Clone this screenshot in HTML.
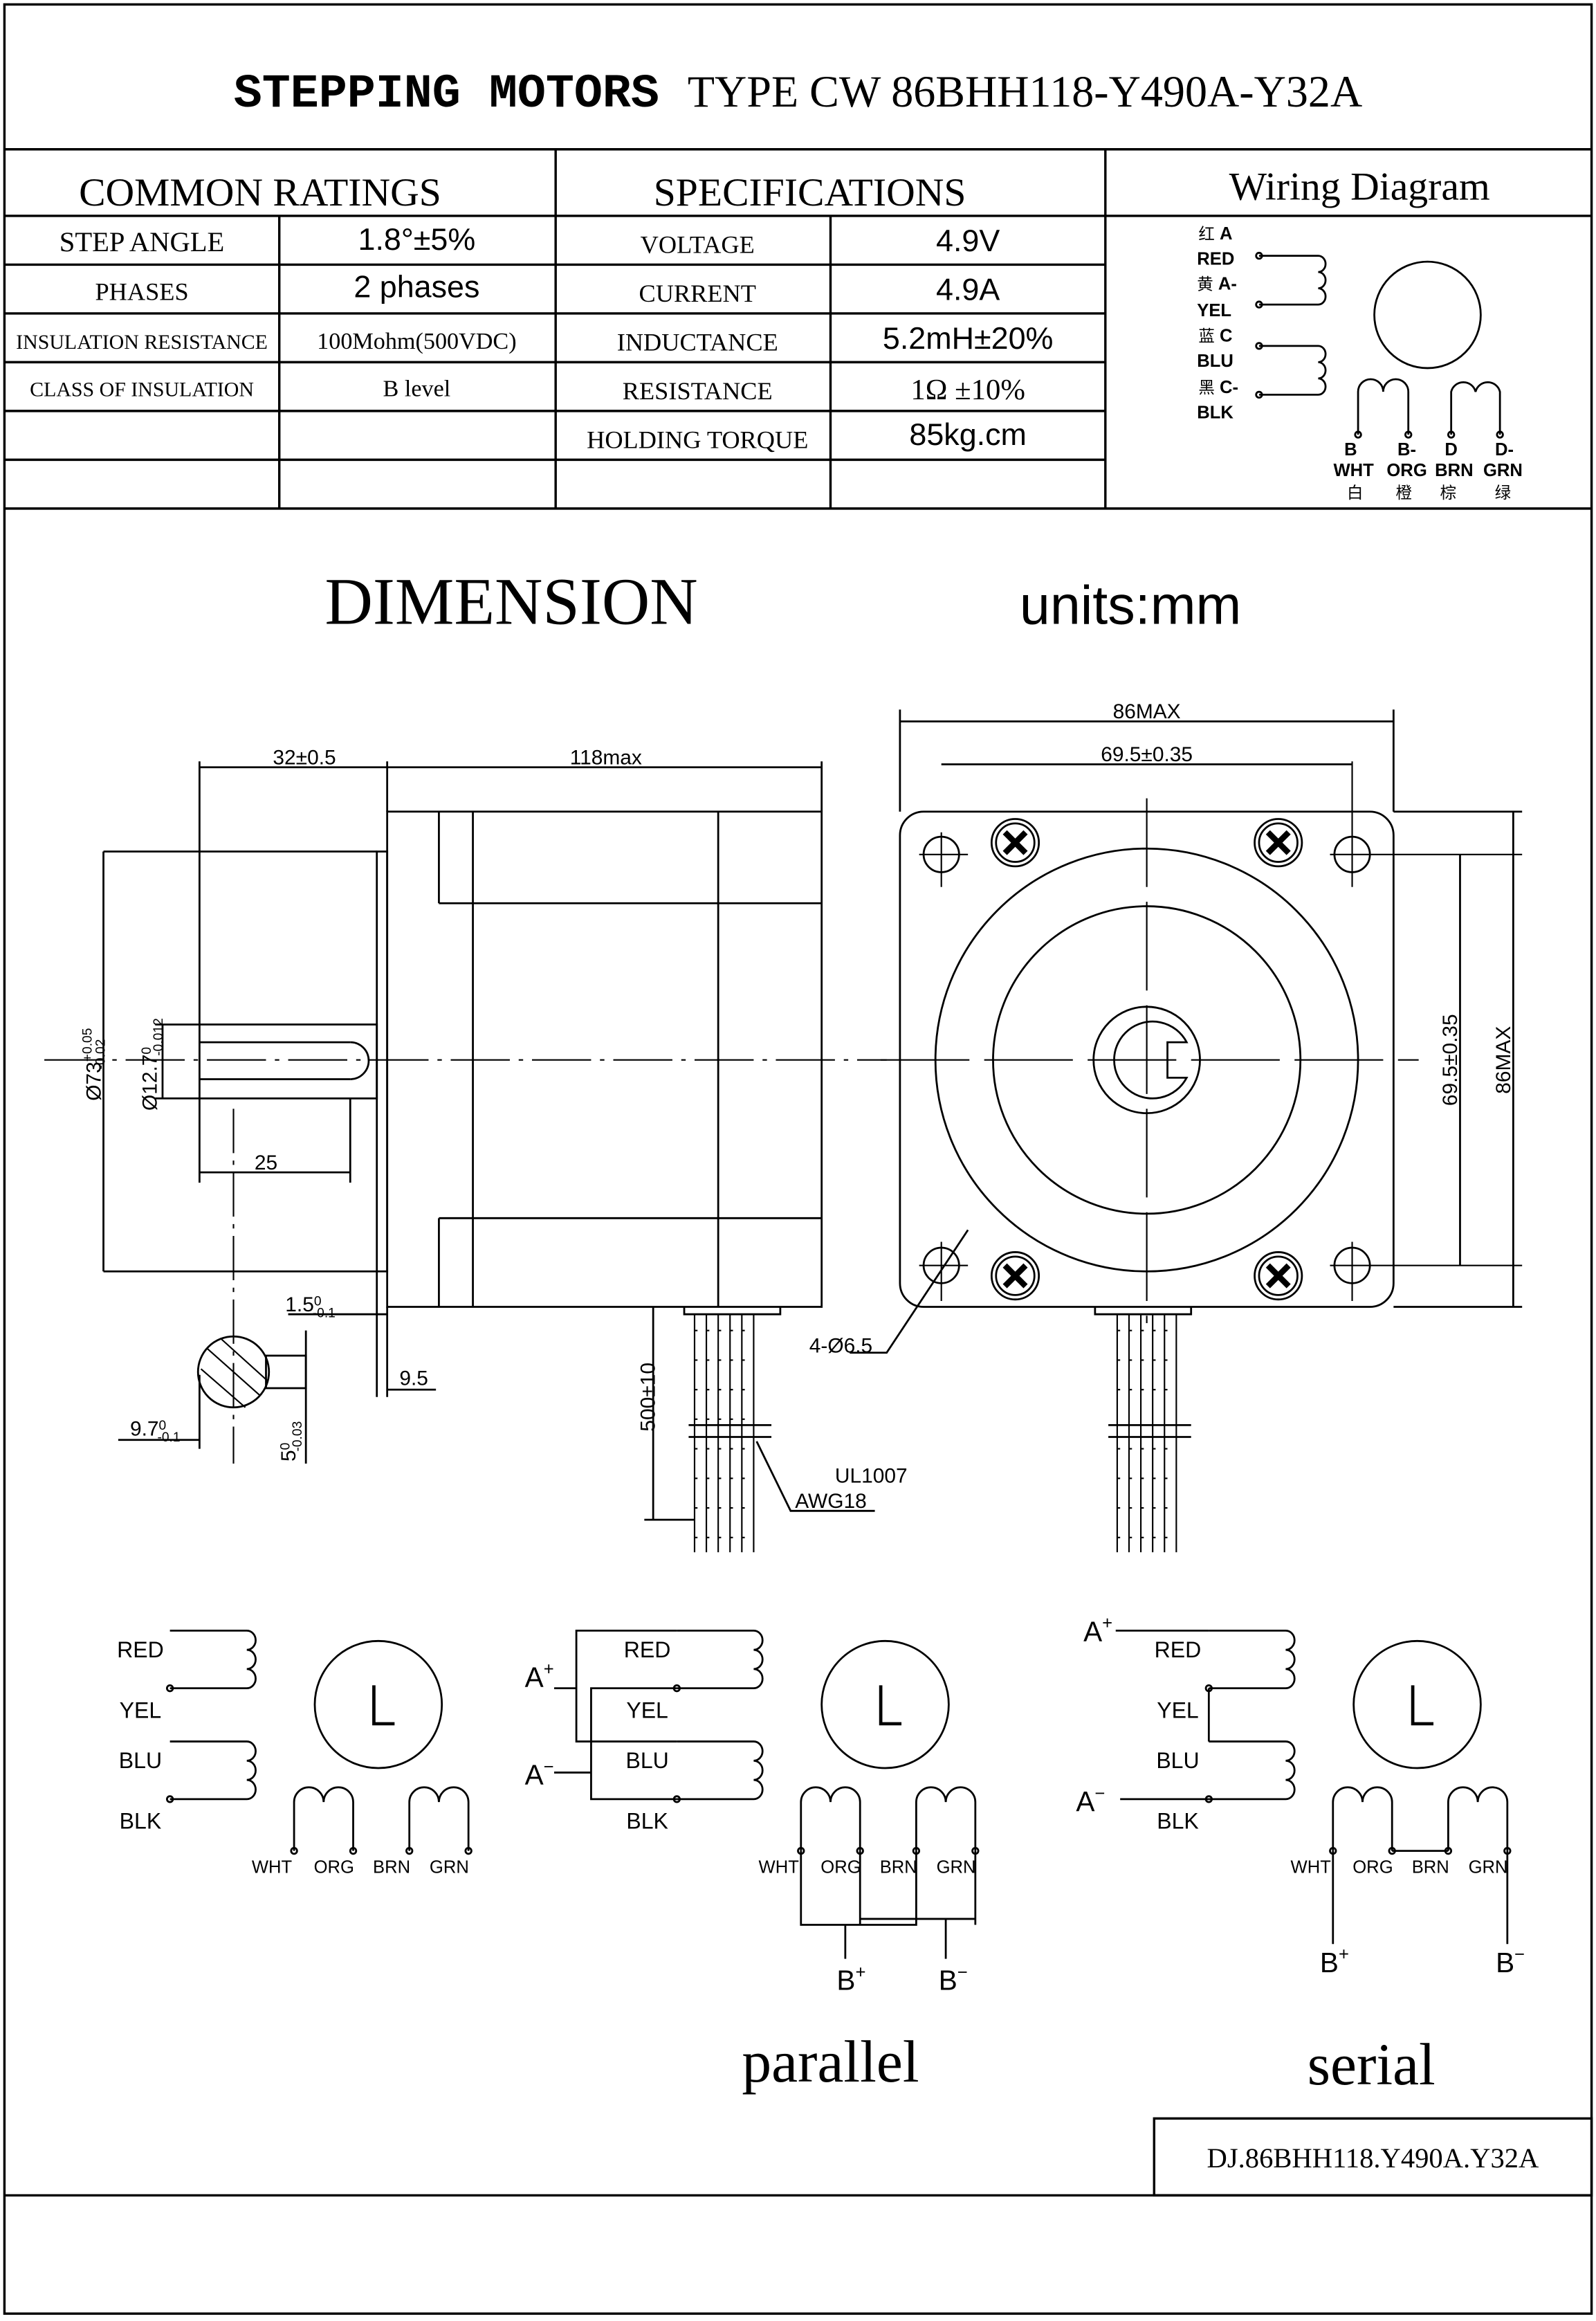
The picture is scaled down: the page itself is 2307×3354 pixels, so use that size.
<!DOCTYPE html>
<html><head><meta charset="utf-8"><style>
html,body{margin:0;padding:0;background:#fff}
svg{display:block}
text{fill:#000}
.m{font-family:"Liberation Mono","Noto Sans CJK SC",monospace}
.s{font-family:"Liberation Serif","Noto Serif CJK SC",serif}
.a{font-family:"Liberation Sans","Noto Sans CJK SC",sans-serif}
</style></head><body>
<svg width="2307" height="3354" viewBox="0 0 1080 1570" preserveAspectRatio="none" xmlns="http://www.w3.org/2000/svg">
<g fill="none" stroke="#000" stroke-width="1.6">
<rect x="3" y="3" width="1074" height="1562"/>
<line x1="3" y1="101" x2="1077" y2="101"/>
<line x1="3" y1="344" x2="1077" y2="344"/>
<line x1="3" y1="146" x2="748" y2="146"/>
<line x1="748" y1="146" x2="1077" y2="146"/>
<line x1="3" y1="179" x2="748" y2="179"/>
<line x1="3" y1="212" x2="748" y2="212"/>
<line x1="3" y1="245" x2="748" y2="245"/>
<line x1="3" y1="278" x2="748" y2="278"/>
<line x1="3" y1="311" x2="748" y2="311"/>
<line x1="189" y1="146" x2="189" y2="344"/>
<line x1="376" y1="101" x2="376" y2="344"/>
<line x1="562" y1="146" x2="562" y2="344"/>
<line x1="748" y1="101" x2="748" y2="344"/>
<rect x="781" y="1433" width="296" height="52"/>
<line x1="3" y1="1485" x2="1077" y2="1485"/>
</g>
<text x="540" y="72" text-anchor="middle" class="m" font-size="32" font-weight="bold">STEPPING MOTORS <tspan class="s" font-weight="normal" font-size="30">TYPE  CW 86BHH118-Y490A-Y32A</tspan></text>
<g class="s" text-anchor="middle">
<text x="176" y="139" font-size="27">COMMON  RATINGS</text>
<text x="548" y="139" font-size="27">SPECIFICATIONS</text>
<text x="920" y="135" font-size="27">Wiring Diagram</text>
<text x="96" y="170" font-size="19">STEP ANGLE</text>
<text x="96" y="203" font-size="17">PHASES</text>
<text x="96" y="236" font-size="14">INSULATION RESISTANCE</text>
<text x="96" y="268" font-size="14">CLASS OF INSULATION</text>
<text x="282" y="236" font-size="16">100Mohm(500VDC)</text>
<text x="282" y="268" font-size="16">B level</text>
<text x="472" y="171" font-size="17">VOLTAGE</text>
<text x="472" y="204" font-size="17">CURRENT</text>
<text x="472" y="237" font-size="17">INDUCTANCE</text>
<text x="472" y="270" font-size="17">RESISTANCE</text>
<text x="472" y="303" font-size="17">HOLDING  TORQUE</text>
<text x="655" y="270" font-size="20">1Ω ±10%</text>
</g>
<g class="a" text-anchor="middle" font-size="21">
<text x="282" y="169">1.8°±5%</text>
<text x="282" y="201">2 phases</text>
<text x="655" y="170">4.9V</text>
<text x="655" y="203">4.9A</text>
<text x="655" y="236">5.2mH±20%</text>
<text x="655" y="301">85kg.cm</text>
</g>
<!-- wiring diagram -->
<g class="a" font-size="12" font-weight="bold">
<text x="811" y="162"><tspan font-weight="normal" font-size="11">红</tspan> A</text>
<text x="810" y="179">RED</text>
<text x="810" y="196"><tspan font-weight="normal" font-size="11">黄</tspan> A-</text>
<text x="810" y="214">YEL</text>
<text x="811" y="231"><tspan font-weight="normal" font-size="11">蓝</tspan> C</text>
<text x="810" y="248">BLU</text>
<text x="811" y="266"><tspan font-weight="normal" font-size="11">黑</tspan> C-</text>
<text x="810" y="283">BLK</text>
<g text-anchor="middle"><text x="914" y="308">B</text><text x="952" y="308">B-</text><text x="982" y="308">D</text><text x="1018" y="308">D-</text>
<text x="916" y="322">WHT</text><text x="952" y="322">ORG</text><text x="984" y="322">BRN</text><text x="1017" y="322">GRN</text></g>
<g text-anchor="middle" font-weight="normal" font-size="11"><text x="917" y="337">白</text><text x="950" y="337">橙</text><text x="980" y="337">棕</text><text x="1017" y="337">绿</text></g>
</g>
<g fill="none" stroke="#000" stroke-width="1.3">
<path d="M852 173 H892 a5 5.5 0 0 1 0 11 a5 5.5 0 0 1 0 11 a5 5.5 0 0 1 0 11 H852"/>
<path d="M852 234 H892 a5 5.5 0 0 1 0 11 a5 5.5 0 0 1 0 11 a5 5.5 0 0 1 0 11 H852"/>
<circle cx="966" cy="213" r="36"/>
<path d="M919 294 V265 a8.5 8.5 0 0 1 17 0 a8.5 8.5 0 0 1 17 0 V294"/>
<path d="M982 294 V265 a8.5 8.5 0 0 1 16.5 0 a8.5 8.5 0 0 1 16.5 0 V294"/>
<circle cx="852" cy="173" r="2"/><circle cx="852" cy="206" r="2"/><circle cx="852" cy="234" r="2"/><circle cx="852" cy="267" r="2"/>
<circle cx="919" cy="294" r="2"/><circle cx="953" cy="294" r="2"/><circle cx="982" cy="294" r="2"/><circle cx="1015" cy="294" r="2"/>
</g>
<text x="346" y="422" class="s" font-size="45" text-anchor="middle">DIMENSION</text>
<text x="765" y="422" class="a" font-size="37" text-anchor="middle">units:mm</text>
<!-- side view -->
<g fill="none" stroke="#000" stroke-width="1.3">
<rect x="262" y="549" width="294" height="335"/>
<line x1="297" y1="549" x2="297" y2="611"/><line x1="297" y1="824" x2="297" y2="884"/>
<line x1="297" y1="611" x2="556" y2="611"/><line x1="297" y1="824" x2="556" y2="824"/>
<line x1="320" y1="549" x2="320" y2="884"/><line x1="486" y1="549" x2="486" y2="884"/>
<rect x="255" y="576" width="7" height="284"/>
<rect x="135" y="693" width="120" height="50"/>
<line x1="135" y1="705" x2="237" y2="705"/><line x1="135" y1="730" x2="237" y2="730"/>
<path d="M237 705 a12.5 12.5 0 0 1 0 25"/>
<line x1="70" y1="576" x2="255" y2="576"/><line x1="70" y1="860" x2="255" y2="860"/>
<line x1="70" y1="576" x2="70" y2="860"/>
<line x1="105" y1="693" x2="135" y2="693"/><line x1="105" y1="743" x2="135" y2="743"/><line x1="110" y1="693" x2="110" y2="743"/>
<line x1="135" y1="515" x2="135" y2="693"/><line x1="262" y1="515" x2="262" y2="549"/><line x1="556" y1="515" x2="556" y2="549"/>
<line x1="135" y1="519" x2="556" y2="519"/>
<line x1="135" y1="743" x2="135" y2="800"/><line x1="237" y1="743" x2="237" y2="800"/><line x1="135" y1="793" x2="237" y2="793"/>
<line x1="255" y1="860" x2="255" y2="945"/><line x1="262" y1="884" x2="262" y2="945"/>
<line x1="195" y1="889" x2="262" y2="889"/><line x1="262" y1="940" x2="295" y2="940"/>
<line x1="30" y1="717" x2="600" y2="717" stroke-dasharray="40 6 3 6" stroke-width="1"/>
<line x1="158" y1="750" x2="158" y2="990" stroke-dasharray="30 5 3 5" stroke-width="1"/>
<circle cx="158" cy="928" r="24"/>
<rect x="180" y="917" width="27" height="22"/>
<path d="M140 912 L176 944 M136 926 L166 952 M150 906 L181 934" stroke-width="1"/>
<line x1="80" y1="974" x2="135" y2="974"/><line x1="135" y1="930" x2="135" y2="980"/>
<line x1="207" y1="900" x2="207" y2="990"/>
<!-- wires -->
<path d="M463 884 v5 h65 v-5"/>
<g stroke-width="1"><path d="M470 889 V1050 M478 889 V1050 M486 889 V1050 M494 889 V1050 M502 889 V1050 M510 889 V1050"/>
<path d="M470 900 h40 M470 920 h40 M470 940 h40 M470 960 h40 M470 980 h40 M470 1000 h40 M470 1020 h40 M470 1040 h40" stroke-dasharray="2 6"/></g>
<path d="M466 964 h56 M466 972 h56"/>
<line x1="442" y1="884" x2="442" y2="1028"/><line x1="436" y1="1028" x2="470" y2="1028"/>
<path d="M512 975 L535 1022 H592"/>
<!-- front view -->
<rect x="609" y="549" width="334" height="335" rx="16"/>
<circle cx="776" cy="717" r="143"/><circle cx="776" cy="717" r="104"/>
<circle cx="776" cy="717" r="36"/>
<path d="M803 705 a26 26 0 1 0 0 24 H790 V705 Z"/>
<circle cx="637" cy="578" r="12"/><circle cx="915" cy="578" r="12"/><circle cx="637" cy="856" r="12"/><circle cx="915" cy="856" r="12"/>
<g id="sc"><circle cx="687" cy="570" r="16"/><circle cx="687" cy="570" r="13"/><path d="M680 563 L694 577 M694 563 L680 577" stroke-width="4"/></g>
<use href="#sc" x="178"/><use href="#sc" y="293"/><use href="#sc" x="178" y="293"/>
<line x1="596" y1="717" x2="960" y2="717" stroke-width="1" stroke-dasharray="60 10"/>
<line x1="776" y1="540" x2="776" y2="895" stroke-width="1" stroke-dasharray="60 10"/>
<path d="M622 578 H655 M637 563 V600 M900 578 H1030 M915 515 V600 M622 856 H655 M637 840 V880 M900 856 H1030 M915 840 V880" stroke-width="1"/>
<line x1="609" y1="480" x2="609" y2="549"/><line x1="943" y1="480" x2="943" y2="549"/>
<line x1="609" y1="488" x2="943" y2="488"/><line x1="637" y1="517" x2="915" y2="517"/>
<line x1="943" y1="549" x2="1030" y2="549"/><line x1="943" y1="884" x2="1030" y2="884"/>
<line x1="1024" y1="549" x2="1024" y2="884"/><line x1="988" y1="578" x2="988" y2="856"/>
<path d="M575 915 H600 L655 832"/>
<path d="M741 884 v5 h65 v-5"/>
<g stroke-width="1"><path d="M756 889 V1050 M764 889 V1050 M772 889 V1050 M780 889 V1050 M788 889 V1050 M796 889 V1050"/>
<path d="M756 900 h40 M756 920 h40 M756 940 h40 M756 980 h40 M756 1000 h40 M756 1020 h40 M756 1040 h40" stroke-dasharray="2 6"/></g>
<path d="M750 964 h56 M750 972 h56"/>
</g>
<g class="a" font-size="14" text-anchor="middle">
<text x="206" y="517">32±0.5</text><text x="410" y="517">118max</text>
<text x="180" y="791">25</text><text x="280" y="937">9.5</text>
<text x="210" y="887">1.5<tspan font-size="9" dy="-4">0</tspan><tspan font-size="9" dx="-6" dy="8">-0.1</tspan></text>
<text x="105" y="971">9.7<tspan font-size="9" dy="-4">0</tspan><tspan font-size="9" dx="-6" dy="8">-0.1</tspan></text>
<text x="569" y="915">4-Ø6.5</text>
<text x="776" y="486">86MAX</text><text x="776" y="515">69.5±0.35</text>
<text x="565" y="1003" text-anchor="start">UL1007</text><text x="538" y="1020" text-anchor="start">AWG18</text>
<text transform="translate(68,720) rotate(-90)">Ø73<tspan font-size="9" dy="-6">+0.05</tspan><tspan font-size="9" dx="-28" dy="9">-0.02</tspan></text>
<text transform="translate(106,720) rotate(-90)">Ø12.7<tspan font-size="9" dy="-4">0</tspan><tspan font-size="9" dx="-6" dy="8">-0.012</tspan></text>
<text transform="translate(200,975) rotate(-90)">5<tspan font-size="9" dy="-4">0</tspan><tspan font-size="9" dx="-6" dy="8">-0.03</tspan></text>
<text transform="translate(443,945) rotate(-90)">500±10</text>
<text transform="translate(986,717) rotate(-90)">69.5±0.35</text>
<text transform="translate(1022,717) rotate(-90)">86MAX</text>
</g>
<!-- bottom diagrams -->
<g fill="none" stroke="#000" stroke-width="1.3">
<g id="bd">
<path d="M115 1103 H167 a6 6.5 0 0 1 0 13 a6 6.5 0 0 1 0 13 a6 6.5 0 0 1 0 13 H115"/>
<path d="M115 1178 H167 a6 6.5 0 0 1 0 13 a6 6.5 0 0 1 0 13 a6 6.5 0 0 1 0 13 H115"/>
<circle cx="256" cy="1153" r="43"/>
<path d="M253 1140 V1166 H267" stroke-width="2.2"/>
<path d="M199 1252 V1219 a10 10 0 0 1 20 0 a10 10 0 0 1 20 0 V1252"/>
<path d="M277 1252 V1219 a10 10 0 0 1 20 0 a10 10 0 0 1 20 0 V1252"/>
<circle cx="115" cy="1142" r="2"/><circle cx="115" cy="1217" r="2"/><circle cx="199" cy="1252" r="2"/><circle cx="239" cy="1252" r="2"/><circle cx="277" cy="1252" r="2"/><circle cx="317" cy="1252" r="2"/>
</g>
<use href="#bd" x="343"/><use href="#bd" x="703"/>
<!-- parallel -->
<path d="M458 1103 H390 V1178 H458 M458 1142 H400 V1217 H458 M375 1142 H390 M375 1199 H400"/>
<path d="M542 1252 V1302 H620 V1252 M582 1252 V1302 M660 1252 V1302 M582 1298 H660 M572 1302 V1325 M640 1298 V1325"/>
<!-- serial -->
<path d="M755 1103 H818 M818 1142 V1178 M758 1217 H818"/>
<path d="M942 1252 H980"/>
<path d="M902 1252 V1315 M1020 1252 V1315"/>
</g>
<g class="a" font-size="15" text-anchor="middle">
<text x="95" y="1121">RED</text><text x="95" y="1162">YEL</text><text x="95" y="1196">BLU</text><text x="95" y="1237">BLK</text>
<text x="438" y="1121">RED</text><text x="438" y="1162">YEL</text><text x="438" y="1196">BLU</text><text x="438" y="1237">BLK</text>
<text x="797" y="1121">RED</text><text x="797" y="1162">YEL</text><text x="797" y="1196">BLU</text><text x="797" y="1237">BLK</text>
<g font-size="12"><text x="184" y="1267">WHT</text><text x="226" y="1267">ORG</text><text x="265" y="1267">BRN</text><text x="304" y="1267">GRN</text>
<text x="527" y="1267">WHT</text><text x="569" y="1267">ORG</text><text x="608" y="1267">BRN</text><text x="647" y="1267">GRN</text>
<text x="887" y="1267">WHT</text><text x="929" y="1267">ORG</text><text x="968" y="1267">BRN</text><text x="1007" y="1267">GRN</text></g>
<g font-size="19"><text x="365" y="1141">A<tspan font-size="12" dy="-8">+</tspan></text><text x="365" y="1207">A<tspan font-size="12" dy="-8">−</tspan></text>
<text x="576" y="1346">B<tspan font-size="12" dy="-8">+</tspan></text><text x="645" y="1346">B<tspan font-size="12" dy="-8">−</tspan></text>
<text x="743" y="1110">A<tspan font-size="12" dy="-8">+</tspan></text><text x="738" y="1225">A<tspan font-size="12" dy="-8">−</tspan></text>
<text x="903" y="1334">B<tspan font-size="12" dy="-8">+</tspan></text><text x="1022" y="1334">B<tspan font-size="12" dy="-8">−</tspan></text></g>
</g>
<text x="562" y="1408" class="s" font-size="40" text-anchor="middle">parallel</text>
<text x="928" y="1410" class="s" font-size="40" text-anchor="middle">serial</text>
<text x="929" y="1466" class="s" font-size="19" text-anchor="middle">DJ.86BHH118.Y490A.Y32A</text>
</svg>
</body></html>
